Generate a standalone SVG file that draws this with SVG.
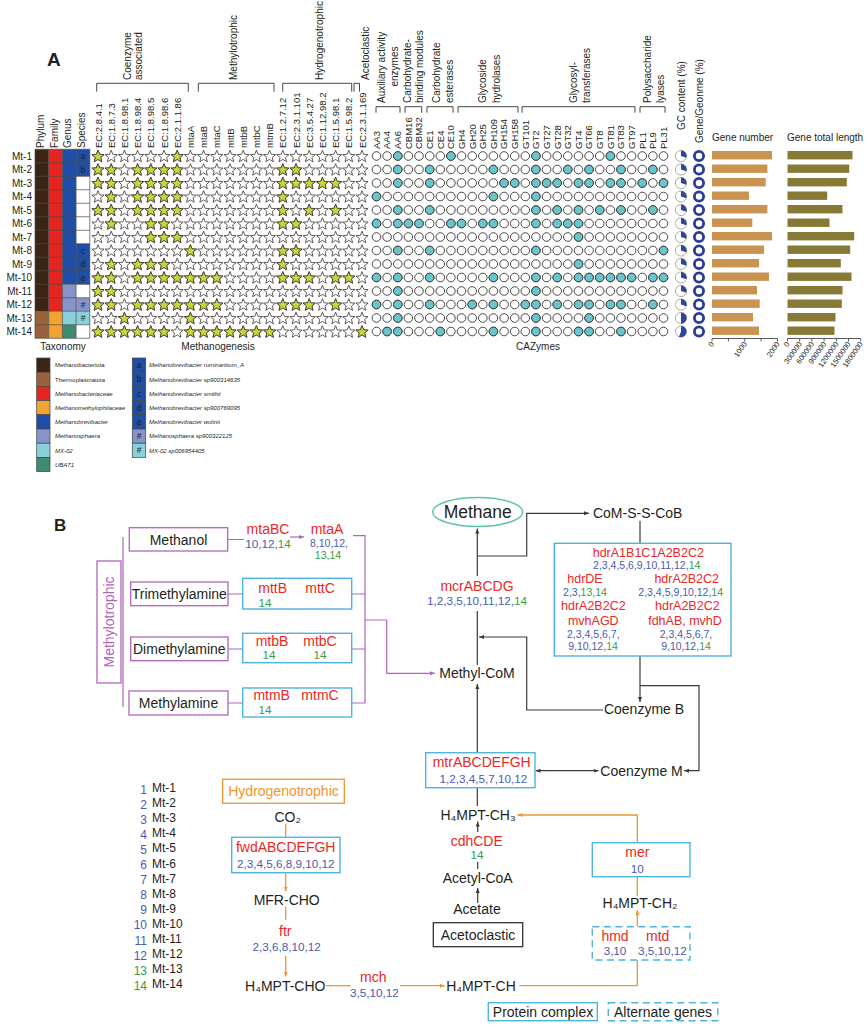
<svg xmlns="http://www.w3.org/2000/svg" width="868" height="1027" viewBox="0 0 868 1027">
<style>
text{font-family:"Liberation Sans",Arial,Helvetica,sans-serif;fill:#231f20}
.c{text-anchor:middle}
.e{text-anchor:end}
.s10{font-size:10px}
.s95{font-size:9.5px}
.s12{font-size:12px}
.s14{font-size:14px}
.n{font-size:11.7px;fill:#4a5baf}
.ns{font-size:10.5px;fill:#4a5baf}
.g{fill:#3b9a45}
.r{fill:#e8291f;font-size:14px}
.rs{fill:#e8291f;font-size:12.5px}
.lg{font-size:6px;font-style:italic}
.lgp{font-size:6px}
.let{font-size:8.5px;fill:#1c2050}
.br{fill:none;stroke:#333;stroke-width:0.9}
.pb{fill:#fff;stroke:#b066b8;stroke-width:1.3}
.cb{fill:#fff;stroke:#4db5de;stroke-width:1.4}
.db{fill:none;stroke:#4db5de;stroke-width:1.4;stroke-dasharray:7 4.5}
.kb{fill:#fff;stroke:#333;stroke-width:1.3}
.ob{fill:#fff;stroke:#f0962e;stroke-width:1.3}
.kl{fill:none;stroke:#3a3a3a;stroke-width:1.2}
.pl{fill:none;stroke:#b066b8;stroke-width:1.2}
.ol{fill:none;stroke:#f0962e;stroke-width:1.3}
.sw{stroke:#444;stroke-width:0.7}
.gn{fill:#c99452}
.gl{fill:#877a36}
.ax{fill:none;stroke:#333;stroke-width:0.8}
.tk{font-size:7.5px}
</style>
<defs>
<marker id="ak" viewBox="0 0 8 8" refX="8" refY="4" markerWidth="5" markerHeight="5" orient="auto-start-reverse" markerUnits="userSpaceOnUse"><path d="M0,0.8L8,4L0,7.2Z" fill="#3a3a3a"/></marker>
<marker id="ao" viewBox="0 0 8 8" refX="8" refY="4" markerWidth="5" markerHeight="5" orient="auto-start-reverse" markerUnits="userSpaceOnUse"><path d="M0,0.8L8,4L0,7.2Z" fill="#f0962e"/></marker>
<marker id="ap" viewBox="0 0 8 8" refX="8" refY="4" markerWidth="5" markerHeight="5" orient="auto-start-reverse" markerUnits="userSpaceOnUse"><path d="M0,0.8L8,4L0,7.2Z" fill="#b066b8"/></marker>
<path id="st" d="M0,-5.8L1.65,-1.67L6.09,-1.38L2.67,1.47L3.76,5.78L0,3.4L-3.76,5.78L-2.67,1.47L-6.09,-1.38L-1.65,-1.67Z" stroke="#3b3636" stroke-width="0.8"/>
<circle id="ci" r="4.3" stroke="#3b3636" stroke-width="0.9"/>
<g id="srow" fill="#fff"><use href="#st" x="98"/><use href="#st" x="111.2"/><use href="#st" x="124.4"/><use href="#st" x="137.6"/><use href="#st" x="150.8"/><use href="#st" x="164"/><use href="#st" x="177.2"/><use href="#st" x="190.4"/><use href="#st" x="203.6"/><use href="#st" x="216.8"/><use href="#st" x="230"/><use href="#st" x="243.2"/><use href="#st" x="256.4"/><use href="#st" x="269.6"/><use href="#st" x="282.8"/><use href="#st" x="296"/><use href="#st" x="309.2"/><use href="#st" x="322.4"/><use href="#st" x="335.6"/><use href="#st" x="348.8"/><use href="#st" x="362"/></g>
<g id="crow" fill="#fff"><use href="#ci" x="376.5"/><use href="#ci" x="387.1"/><use href="#ci" x="397.8"/><use href="#ci" x="408.4"/><use href="#ci" x="419"/><use href="#ci" x="429.7"/><use href="#ci" x="440.3"/><use href="#ci" x="450.9"/><use href="#ci" x="461.5"/><use href="#ci" x="472.2"/><use href="#ci" x="482.8"/><use href="#ci" x="493.4"/><use href="#ci" x="504.1"/><use href="#ci" x="514.7"/><use href="#ci" x="525.3"/><use href="#ci" x="535.9"/><use href="#ci" x="546.6"/><use href="#ci" x="557.2"/><use href="#ci" x="567.8"/><use href="#ci" x="578.5"/><use href="#ci" x="589.1"/><use href="#ci" x="599.7"/><use href="#ci" x="610.4"/><use href="#ci" x="621"/><use href="#ci" x="631.6"/><use href="#ci" x="642.3"/><use href="#ci" x="652.9"/><use href="#ci" x="663.5"/></g>
<g id="pieA"><circle r="5.6" fill="#fff" stroke="#8a8a8a" stroke-width="0.7"/><path d="M0,0V-5.6A5.6,5.6 0 0 1 5.33,1.73Z" fill="#2f44a0"/></g>
<g id="pieB"><circle r="5.6" fill="#fff" stroke="#8a8a8a" stroke-width="0.7"/><path d="M0,0V-5.6A5.6,5.6 0 0 1 0,5.6Z" fill="#2f44a0"/></g>
<g id="pieC"><circle r="5.6" fill="#fff" stroke="#8a8a8a" stroke-width="0.7"/><path d="M0,0V-5.6A5.6,5.6 0 1 1 -2.06,5.21Z" fill="#2f44a0"/></g>
<circle id="don" r="4.6" fill="#fff" stroke="#2a3c95" stroke-width="2.8"/>
</defs>

<g id="panelA-label"><text x="47" y="66" style="font-size:19px;font-weight:bold">A</text></g>

<g id="group-headers" class="s10">
<path class="br" d="M96.7,91.7V83.3H188.3V91.7M198.3,91.7V83.3H274V91.7M282.7,91.7V83.3H351.7V91.7M354,91.7V83.3H359.5V91.7"/>
<path class="br" d="M376,112.7V106.7H400V112.7M405,112.7V106.7H421.7V112.7M427,112.7V106.7H453V112.7M458,112.7V106.7H518V112.7M522,112.7V106.7H635V112.7M640,112.7V106.7H665V112.7"/>
<text transform="translate(130.5,80) rotate(-90)">Coenzyme</text>
<text transform="translate(142,80) rotate(-90)">associated</text>
<text transform="translate(237,80) rotate(-90)">Methylotrophic</text>
<text transform="translate(322.5,80) rotate(-90)">Hydrogenotrophic</text>
<text transform="translate(369,80) rotate(-90)">Acetoclastic</text>
<text transform="translate(384.5,103) rotate(-90)">Auxiliary activity</text>
<text class="c" transform="translate(398,66.5) rotate(-90)">enzymes</text>
<text transform="translate(411,103) rotate(-90)">Carbohydrate-</text>
<text transform="translate(423,103) rotate(-90)">binding modules</text>
<text transform="translate(439.5,103) rotate(-90)">Carbohydrate</text>
<text transform="translate(453,103) rotate(-90)">esterases</text>
<text transform="translate(486,103) rotate(-90)">Glycoside</text>
<text transform="translate(499.5,103) rotate(-90)">hydrolases</text>
<text transform="translate(576.5,103) rotate(-90)">Glycosyl-</text>
<text transform="translate(589.5,103) rotate(-90)">transferases</text>
<text transform="translate(650.5,103) rotate(-90)">Polysaccharide</text>
<text transform="translate(664,103) rotate(-90)">lyases</text>
<text transform="translate(684.5,130) rotate(-90)">GC content (%)</text>
<text transform="translate(702.5,143) rotate(-90)">Gene/Geonme (%)</text>
<text x="712" y="141">Gene number</text>
<text x="787" y="141">Gene total length</text>
</g>

<g id="column-headers" class="s95">
<text transform="translate(44,148) rotate(-90)" class="s10">Phylum</text>
<text transform="translate(57.5,148) rotate(-90)" class="s10">Family</text>
<text transform="translate(71,148) rotate(-90)" class="s10">Genus</text>
<text transform="translate(85,148) rotate(-90)" class="s10">Species</text>
<text transform="translate(101.5,148) rotate(-90)">EC:2.8.4.1</text>
<text transform="translate(114.7,148) rotate(-90)">EC:1.8.7.3</text>
<text transform="translate(127.9,148) rotate(-90)">EC:1.8.98.1</text>
<text transform="translate(141.1,148) rotate(-90)">EC:1.8.98.4</text>
<text transform="translate(154.3,148) rotate(-90)">EC:1.8.98.5</text>
<text transform="translate(167.5,148) rotate(-90)">EC:1.8.98.6</text>
<text transform="translate(180.7,148) rotate(-90)">EC:2.1.1.86</text>
<text transform="translate(193.9,148) rotate(-90)">mtaA</text>
<text transform="translate(207.1,148) rotate(-90)">mtaB</text>
<text transform="translate(220.3,148) rotate(-90)">mtaC</text>
<text transform="translate(233.5,148) rotate(-90)">mttB</text>
<text transform="translate(246.7,148) rotate(-90)">mtbB</text>
<text transform="translate(259.9,148) rotate(-90)">mtbC</text>
<text transform="translate(273.1,148) rotate(-90)">mtmB</text>
<text transform="translate(286.3,148) rotate(-90)">EC:1.2.7.12</text>
<text transform="translate(299.5,148) rotate(-90)">EC:2.3.1.101</text>
<text transform="translate(312.7,148) rotate(-90)">EC:3.5.4.27</text>
<text transform="translate(325.9,148) rotate(-90)">EC:1.12.98.2</text>
<text transform="translate(339.1,148) rotate(-90)">EC:1.5.98.1</text>
<text transform="translate(352.3,148) rotate(-90)">EC:1.5.98.2</text>
<text transform="translate(365.5,148) rotate(-90)">EC:2.3.1.169</text>
<text transform="translate(379.8,149) rotate(-90)">AA3</text>
<text transform="translate(390.4,149) rotate(-90)">AA4</text>
<text transform="translate(401.1,149) rotate(-90)">AA6</text>
<text transform="translate(411.7,149) rotate(-90)">CBM16</text>
<text transform="translate(422.3,149) rotate(-90)">CBM32</text>
<text transform="translate(433,149) rotate(-90)">CE1</text>
<text transform="translate(443.6,149) rotate(-90)">CE4</text>
<text transform="translate(454.2,149) rotate(-90)">CE10</text>
<text transform="translate(464.8,149) rotate(-90)">GH4</text>
<text transform="translate(475.5,149) rotate(-90)">GH20</text>
<text transform="translate(486.1,149) rotate(-90)">GH25</text>
<text transform="translate(496.7,149) rotate(-90)">GH109</text>
<text transform="translate(507.4,149) rotate(-90)">GH154</text>
<text transform="translate(518,149) rotate(-90)">GH158</text>
<text transform="translate(528.6,149) rotate(-90)">GT101</text>
<text transform="translate(539.2,149) rotate(-90)">GT2</text>
<text transform="translate(549.9,149) rotate(-90)">GT27</text>
<text transform="translate(560.5,149) rotate(-90)">GT28</text>
<text transform="translate(571.1,149) rotate(-90)">GT32</text>
<text transform="translate(581.8,149) rotate(-90)">GT4</text>
<text transform="translate(592.4,149) rotate(-90)">GT66</text>
<text transform="translate(603,149) rotate(-90)">GT8</text>
<text transform="translate(613.7,149) rotate(-90)">GT81</text>
<text transform="translate(624.3,149) rotate(-90)">GT83</text>
<text transform="translate(634.9,149) rotate(-90)">GT97</text>
<text transform="translate(645.6,149) rotate(-90)">PL1</text>
<text transform="translate(656.2,149) rotate(-90)">PL9</text>
<text transform="translate(666.8,149) rotate(-90)">PL31</text>
</g>

<g id="row-labels" class="s10 e">
<text x="32" y="159.6">Mt-1</text><text x="32" y="173.1">Mt-2</text><text x="32" y="186.6">Mt-3</text><text x="32" y="200.1">Mt-4</text><text x="32" y="213.6">Mt-5</text><text x="32" y="227.1">Mt-6</text><text x="32" y="240.6">Mt-7</text><text x="32" y="254.1">Mt-8</text><text x="32" y="267.6">Mt-9</text><text x="32" y="281.1">Mt-10</text><text x="32" y="294.6">Mt-11</text><text x="32" y="308.1">Mt-12</text><text x="32" y="321.6">Mt-13</text><text x="32" y="335.1">Mt-14</text>
</g>

<g id="taxonomy">
<rect x="35" y="149.25" width="13.7" height="162" fill="#3c2415"/>
<rect x="35" y="311.25" width="13.7" height="27" fill="#9b6239"/>
<rect x="48.7" y="149.25" width="13.7" height="162" fill="#e62420"/>
<rect x="48.7" y="311.25" width="13.7" height="27" fill="#f2a332"/>
<rect x="62.4" y="149.25" width="13.7" height="135" fill="#1f4ea6"/>
<rect x="62.4" y="284.25" width="13.7" height="27" fill="#8794c9"/>
<rect x="62.4" y="311.25" width="13.7" height="13.5" fill="#87d2da"/>
<rect x="62.4" y="324.75" width="13.7" height="13.5" fill="#3f8b6d"/>
<rect x="76.1" y="149.25" width="13.7" height="189" fill="#fff"/>
<rect x="76.1" y="149.25" width="13.7" height="27" fill="#1f4ea6"/>
<rect x="76.1" y="243.75" width="13.7" height="40.5" fill="#1f4ea6"/>
<rect x="76.1" y="297.75" width="13.7" height="13.5" fill="#8794c9"/>
<rect x="76.1" y="311.25" width="13.7" height="13.5" fill="#87d2da"/>
<path fill="none" stroke="#4a4a4a" stroke-width="0.7" d="M35,149.25H89.8M35,162.75H89.8M35,176.25H89.8M35,189.75H89.8M35,203.25H89.8M35,216.75H89.8M35,230.25H89.8M35,243.75H89.8M35,257.25H89.8M35,270.75H89.8M35,284.25H89.8M35,297.75H89.8M35,311.25H89.8M35,324.75H89.8M35,338.25H89.8M35,149.25V338.25M48.7,149.25V338.25M62.4,149.25V338.25M76.1,149.25V338.25M89.8,149.25V338.25"/>
<g class="let c">
<text x="83" y="159">a</text><text x="83" y="172.5">b</text><text x="83" y="253.5">c</text><text x="83" y="267">d</text><text x="83" y="280.5">e</text><text x="83" y="307.5">#</text><text x="83" y="321">#</text>
</g>
</g>

<g id="methanogenesis-stars">
<use href="#srow" y="156"/><use href="#srow" y="169.5"/><use href="#srow" y="183"/><use href="#srow" y="196.5"/><use href="#srow" y="210"/><use href="#srow" y="223.5"/><use href="#srow" y="237"/><use href="#srow" y="250.5"/><use href="#srow" y="264"/><use href="#srow" y="277.5"/><use href="#srow" y="291"/><use href="#srow" y="304.5"/><use href="#srow" y="318"/><use href="#srow" y="331.5"/>
<g fill="#c8d63c">
<g transform="translate(0,156)"><use href="#st" x="98"/><use href="#st" x="177.2"/></g>
<g transform="translate(0,169.5)"><use href="#st" x="98"/><use href="#st" x="111.2"/><use href="#st" x="137.6"/><use href="#st" x="150.8"/><use href="#st" x="164"/><use href="#st" x="177.2"/><use href="#st" x="282.8"/><use href="#st" x="296"/></g>
<g transform="translate(0,183)"><use href="#st" x="98"/><use href="#st" x="111.2"/><use href="#st" x="137.6"/><use href="#st" x="150.8"/><use href="#st" x="164"/><use href="#st" x="177.2"/><use href="#st" x="282.8"/><use href="#st" x="296"/><use href="#st" x="309.2"/><use href="#st" x="322.4"/><use href="#st" x="335.6"/></g>
<g transform="translate(0,196.5)"><use href="#st" x="111.2"/><use href="#st" x="137.6"/><use href="#st" x="150.8"/><use href="#st" x="164"/><use href="#st" x="177.2"/><use href="#st" x="282.8"/></g>
<g transform="translate(0,210)"><use href="#st" x="98"/><use href="#st" x="111.2"/><use href="#st" x="137.6"/><use href="#st" x="150.8"/><use href="#st" x="164"/><use href="#st" x="177.2"/><use href="#st" x="282.8"/><use href="#st" x="309.2"/><use href="#st" x="335.6"/></g>
<g transform="translate(0,223.5)"><use href="#st" x="111.2"/><use href="#st" x="150.8"/><use href="#st" x="164"/><use href="#st" x="282.8"/><use href="#st" x="296"/></g>
<g transform="translate(0,237)"><use href="#st" x="150.8"/><use href="#st" x="164"/><use href="#st" x="177.2"/></g>
<g transform="translate(0,250.5)"><use href="#st" x="190.4"/><use href="#st" x="282.8"/><use href="#st" x="296"/></g>
<g transform="translate(0,264)"><use href="#st" x="111.2"/><use href="#st" x="137.6"/><use href="#st" x="150.8"/><use href="#st" x="164"/><use href="#st" x="282.8"/></g>
<g transform="translate(0,277.5)"><use href="#st" x="98"/><use href="#st" x="111.2"/><use href="#st" x="137.6"/><use href="#st" x="150.8"/><use href="#st" x="164"/><use href="#st" x="177.2"/><use href="#st" x="190.4"/><use href="#st" x="203.6"/><use href="#st" x="216.8"/><use href="#st" x="282.8"/><use href="#st" x="296"/><use href="#st" x="309.2"/><use href="#st" x="335.6"/><use href="#st" x="348.8"/></g>
<g transform="translate(0,291)"><use href="#st" x="98"/><use href="#st" x="111.2"/></g>
<g transform="translate(0,304.5)"><use href="#st" x="98"/><use href="#st" x="111.2"/><use href="#st" x="137.6"/><use href="#st" x="150.8"/><use href="#st" x="164"/><use href="#st" x="177.2"/><use href="#st" x="190.4"/><use href="#st" x="203.6"/><use href="#st" x="216.8"/><use href="#st" x="282.8"/><use href="#st" x="296"/><use href="#st" x="309.2"/><use href="#st" x="335.6"/></g>
<g transform="translate(0,318)"><use href="#st" x="124.4"/><use href="#st" x="190.4"/></g>
<g transform="translate(0,331.5)"><use href="#st" x="98"/><use href="#st" x="111.2"/><use href="#st" x="124.4"/><use href="#st" x="137.6"/><use href="#st" x="150.8"/><use href="#st" x="164"/><use href="#st" x="190.4"/><use href="#st" x="203.6"/><use href="#st" x="216.8"/><use href="#st" x="230"/><use href="#st" x="243.2"/><use href="#st" x="256.4"/><use href="#st" x="269.6"/><use href="#st" x="362"/></g>
</g>
</g>

<g id="cazyme-circles">
<use href="#crow" y="156"/><use href="#crow" y="169.5"/><use href="#crow" y="183"/><use href="#crow" y="196.5"/><use href="#crow" y="210"/><use href="#crow" y="223.5"/><use href="#crow" y="237"/><use href="#crow" y="250.5"/><use href="#crow" y="264"/><use href="#crow" y="277.5"/><use href="#crow" y="291"/><use href="#crow" y="304.5"/><use href="#crow" y="318"/><use href="#crow" y="331.5"/>
<g fill="#6ac6cd">
<g transform="translate(0,156)"><use href="#ci" x="397.8"/><use href="#ci" x="450.9"/><use href="#ci" x="535.9"/><use href="#ci" x="610.4"/></g>
<g transform="translate(0,169.5)"><use href="#ci" x="397.8"/><use href="#ci" x="429.7"/><use href="#ci" x="493.4"/><use href="#ci" x="535.9"/><use href="#ci" x="567.8"/><use href="#ci" x="589.1"/><use href="#ci" x="621"/><use href="#ci" x="652.9"/></g>
<g transform="translate(0,183)"><use href="#ci" x="397.8"/><use href="#ci" x="429.7"/><use href="#ci" x="504.1"/><use href="#ci" x="514.7"/><use href="#ci" x="535.9"/><use href="#ci" x="546.6"/><use href="#ci" x="557.2"/><use href="#ci" x="578.5"/><use href="#ci" x="589.1"/><use href="#ci" x="610.4"/><use href="#ci" x="621"/><use href="#ci" x="642.3"/><use href="#ci" x="663.5"/></g>
<g transform="translate(0,196.5)"><use href="#ci" x="376.5"/><use href="#ci" x="493.4"/><use href="#ci" x="535.9"/></g>
<g transform="translate(0,210)"><use href="#ci" x="397.8"/><use href="#ci" x="429.7"/><use href="#ci" x="535.9"/><use href="#ci" x="557.2"/><use href="#ci" x="578.5"/><use href="#ci" x="599.7"/><use href="#ci" x="621"/><use href="#ci" x="652.9"/></g>
<g transform="translate(0,223.5)"><use href="#ci" x="376.5"/><use href="#ci" x="397.8"/><use href="#ci" x="408.4"/><use href="#ci" x="419"/><use href="#ci" x="450.9"/><use href="#ci" x="461.5"/><use href="#ci" x="482.8"/><use href="#ci" x="493.4"/><use href="#ci" x="535.9"/><use href="#ci" x="557.2"/><use href="#ci" x="567.8"/><use href="#ci" x="578.5"/></g>
<g transform="translate(0,237)"><use href="#ci" x="578.5"/></g>
<g transform="translate(0,250.5)"><use href="#ci" x="397.8"/><use href="#ci" x="429.7"/><use href="#ci" x="535.9"/><use href="#ci" x="663.5"/></g>
<g transform="translate(0,264)"><use href="#ci" x="578.5"/></g>
<g transform="translate(0,277.5)"><use href="#ci" x="376.5"/><use href="#ci" x="397.8"/><use href="#ci" x="429.7"/><use href="#ci" x="493.4"/><use href="#ci" x="535.9"/><use href="#ci" x="557.2"/><use href="#ci" x="578.5"/><use href="#ci" x="589.1"/><use href="#ci" x="599.7"/><use href="#ci" x="610.4"/><use href="#ci" x="621"/><use href="#ci" x="631.6"/><use href="#ci" x="652.9"/><use href="#ci" x="663.5"/></g>
<g transform="translate(0,291)"><use href="#ci" x="397.8"/><use href="#ci" x="535.9"/></g>
<g transform="translate(0,304.5)"><use href="#ci" x="376.5"/><use href="#ci" x="397.8"/><use href="#ci" x="429.7"/><use href="#ci" x="472.2"/><use href="#ci" x="493.4"/><use href="#ci" x="525.3"/><use href="#ci" x="535.9"/><use href="#ci" x="557.2"/><use href="#ci" x="578.5"/><use href="#ci" x="589.1"/><use href="#ci" x="610.4"/><use href="#ci" x="621"/><use href="#ci" x="652.9"/></g>
<g transform="translate(0,318)"><use href="#ci" x="397.8"/><use href="#ci" x="535.9"/><use href="#ci" x="589.1"/></g>
<g transform="translate(0,331.5)"><use href="#ci" x="387.1"/><use href="#ci" x="397.8"/><use href="#ci" x="440.3"/><use href="#ci" x="493.4"/><use href="#ci" x="535.9"/><use href="#ci" x="578.5"/><use href="#ci" x="589.1"/><use href="#ci" x="621"/></g>
</g>
</g>

<g id="gc-pies">
<use href="#pieA" x="681" y="156"/><use href="#pieA" x="681" y="169.5"/><use href="#pieA" x="681" y="183"/><use href="#pieA" x="681" y="196.5"/><use href="#pieA" x="681" y="210"/><use href="#pieA" x="681" y="223.5"/><use href="#pieA" x="681" y="237"/><use href="#pieA" x="681" y="250.5"/><use href="#pieA" x="681" y="264"/><use href="#pieA" x="681" y="277.5"/><use href="#pieA" x="681" y="291"/><use href="#pieA" x="681" y="304.5"/><use href="#pieB" x="681" y="318"/><use href="#pieC" x="681" y="331.5"/>
</g>
<g id="gene-genome">
<use href="#don" x="699" y="156"/><use href="#don" x="699" y="169.5"/><use href="#don" x="699" y="183"/><use href="#don" x="699" y="196.5"/><use href="#don" x="699" y="210"/><use href="#don" x="699" y="223.5"/><use href="#don" x="699" y="237"/><use href="#don" x="699" y="250.5"/><use href="#don" x="699" y="264"/><use href="#don" x="699" y="277.5"/><use href="#don" x="699" y="291"/><use href="#don" x="699" y="304.5"/><use href="#don" x="699" y="318"/><use href="#don" x="699" y="331.5"/>
</g>

<g id="gene-number-bars" class="gn">
<rect x="712" y="151" width="60" height="8.4"/><rect x="712" y="164.5" width="55.4" height="8.4"/><rect x="712" y="178" width="53.7" height="8.4"/><rect x="712" y="191.5" width="37" height="8.4"/><rect x="712" y="205" width="55.4" height="8.4"/><rect x="712" y="218.5" width="40.3" height="8.4"/><rect x="712" y="232" width="60" height="8.4"/><rect x="712" y="245.5" width="52" height="8.4"/><rect x="712" y="259" width="47" height="8.4"/><rect x="712" y="272.5" width="57" height="8.4"/><rect x="712" y="286" width="45" height="8.4"/><rect x="712" y="299.5" width="47.7" height="8.4"/><rect x="712" y="313" width="41" height="8.4"/><rect x="712" y="326.5" width="47" height="8.4"/>
</g>
<g id="gene-length-bars" class="gl">
<rect x="787.5" y="151" width="65" height="8.4"/><rect x="787.5" y="164.5" width="61.7" height="8.4"/><rect x="787.5" y="178" width="59.3" height="8.4"/><rect x="787.5" y="191.5" width="39.7" height="8.4"/><rect x="787.5" y="205" width="55" height="8.4"/><rect x="787.5" y="218.5" width="42" height="8.4"/><rect x="787.5" y="232" width="66.7" height="8.4"/><rect x="787.5" y="245.5" width="62.7" height="8.4"/><rect x="787.5" y="259" width="53.3" height="8.4"/><rect x="787.5" y="272.5" width="64" height="8.4"/><rect x="787.5" y="286" width="55" height="8.4"/><rect x="787.5" y="299.5" width="54.3" height="8.4"/><rect x="787.5" y="313" width="48" height="8.4"/><rect x="787.5" y="326.5" width="47" height="8.4"/>
</g>
<g id="axes">
<path class="ax" d="M712,338.5H777.5M712,338.5v3M728.4,338.5v3M744.8,338.5v3M761.1,338.5v3M777.5,338.5v3"/>
<path class="ax" d="M787.5,338.5H860.7M787.5,338.5v3M799.7,338.5v3M811.9,338.5v3M824.1,338.5v3M836.3,338.5v3M848.5,338.5v3M860.7,338.5v3"/>
<g class="tk e">
<text transform="translate(714.5,344) rotate(-55)">0</text>
<text transform="translate(747.3,344) rotate(-55)">1000</text>
<text transform="translate(780,344) rotate(-55)">2000</text>
<text transform="translate(790,344) rotate(-55)">0</text>
<text transform="translate(802.2,344) rotate(-55)">300000</text>
<text transform="translate(814.4,344) rotate(-55)">600000</text>
<text transform="translate(826.6,344) rotate(-55)">900000</text>
<text transform="translate(838.8,344) rotate(-55)">1200000</text>
<text transform="translate(851,344) rotate(-55)">1500000</text>
<text transform="translate(863.2,344) rotate(-55)">1800000</text>
</g>
</g>

<g id="section-labels" class="s10 c">
<text x="63" y="350">Taxonomy</text>
<text x="218" y="350">Methanogenesis</text>
<text x="538" y="350">CAZymes</text>
</g>

<g id="legend-taxonomy">
<rect class="sw" x="36.7" y="358" width="13.3" height="14.2" fill="#3c2415"/>
<rect class="sw" x="36.7" y="372.2" width="13.3" height="14.2" fill="#9b6239"/>
<rect class="sw" x="36.7" y="386.4" width="13.3" height="14.2" fill="#e62420"/>
<rect class="sw" x="36.7" y="400.6" width="13.3" height="14.2" fill="#f2a332"/>
<rect class="sw" x="36.7" y="414.8" width="13.3" height="14.2" fill="#1f4ea6"/>
<rect class="sw" x="36.7" y="429" width="13.3" height="14.2" fill="#8794c9"/>
<rect class="sw" x="36.7" y="443.2" width="13.3" height="14.2" fill="#87d2da"/>
<rect class="sw" x="36.7" y="457.4" width="13.3" height="14.2" fill="#3f8b6d"/>
<text class="lgp" x="55" y="367.3">Methanobacteriota</text>
<text class="lgp" x="55" y="381.5">Thermoplasmatota</text>
<text class="lg" x="55" y="395.7">Methanobacteriaceae</text>
<text class="lg" x="55" y="409.9">Methanomethylophilaceae</text>
<text class="lg" x="55" y="424.1">Methanobrevibacter</text>
<text class="lg" x="55" y="438.3">Methanosphaera</text>
<text class="lg" x="55" y="452.5">MX-02</text>
<text class="lg" x="55" y="466.7">UBA71</text>
</g>
<g id="legend-species">
<rect class="sw" x="132.3" y="358" width="13.4" height="14.2" fill="#1f4ea6"/>
<rect class="sw" x="132.3" y="372.2" width="13.4" height="14.2" fill="#1f4ea6"/>
<rect class="sw" x="132.3" y="386.4" width="13.4" height="14.2" fill="#1f4ea6"/>
<rect class="sw" x="132.3" y="400.6" width="13.4" height="14.2" fill="#1f4ea6"/>
<rect class="sw" x="132.3" y="414.8" width="13.4" height="14.2" fill="#1f4ea6"/>
<rect class="sw" x="132.3" y="429" width="13.4" height="14.2" fill="#8794c9"/>
<rect class="sw" x="132.3" y="443.2" width="13.4" height="14.2" fill="#87d2da"/>
<g class="let c">
<text x="139" y="368.2">a</text><text x="139" y="382.4">b</text><text x="139" y="396.6">c</text><text x="139" y="410.8">d</text><text x="139" y="425">e</text><text x="139" y="439.2">#</text><text x="139" y="453.4">#</text>
</g>
<text class="lg" x="149" y="367.3">Methanobrevibacter ruminantium_A</text>
<text class="lg" x="149" y="381.5">Methanobrevibacter sp900314635</text>
<text class="lg" x="149" y="395.7">Methanobrevibacter smithii</text>
<text class="lg" x="149" y="409.9">Methanobrevibacter sp900769095</text>
<text class="lg" x="149" y="424.1">Methanobrevibacter wolinii</text>
<text class="lg" x="149" y="438.3">Methanosphaera sp900322125</text>
<text class="lg" x="149" y="452.5">MX-02 sp006954405</text>
</g>

<g id="panelB-label"><text x="54" y="531" style="font-size:17px;font-weight:bold">B</text></g>

<g id="connectors">
<path class="pl" d="M123,537V707"/>
<path class="pl" d="M228,539.5H244M228,594H242.7M228,649H242.7M228,703H242.7"/>
<path class="pl" d="M290,537H304" marker-end="url(#ap)"/>
<path class="pl" d="M353,535.7H365V703M351.7,594H365M351.7,649H365M351.7,703H365"/>
<path class="pl" d="M365,620H386.7V673.3H435" marker-end="url(#ap)"/>
<path class="kl" d="M477.3,576V528.5" marker-end="url(#ak)"/>
<path class="kl" d="M477.3,556H526.7V513.3H589" marker-end="url(#ak)"/>
<path class="kl" d="M477.3,611V665"/>
<path class="kl" d="M603,710H526.7V637H479" marker-end="url(#ak)"/>
<path class="kl" d="M477.3,752.7V684" marker-end="url(#ak)"/>
<path class="kl" d="M640,520.7V543.3"/>
<path class="kl" d="M640,656V702" marker-end="url(#ak)"/>
<path class="kl" d="M640,685.7H699V770.7H684" marker-end="url(#ak)"/>
<path class="kl" d="M535.5,770.7H598.5" marker-start="url(#ak)" marker-end="url(#ak)"/>
<path class="kl" d="M477.3,787.7V806"/>
<path class="kl" d="M477.7,832V821.5" marker-end="url(#ak)"/>
<path class="kl" d="M477.7,862V869"/>
<path class="kl" d="M477.7,903V888" marker-end="url(#ak)"/>
<path class="ol" d="M637.3,842.7V815H517.5" marker-end="url(#ao)"/>
<path class="ol" d="M637.3,876.7V896"/>
<path class="ol" d="M637.3,926.7V910" marker-end="url(#ao)"/>
<path class="ol" d="M637.3,960V985.7H519.3"/>
<path class="ol" d="M285.7,824V837.3"/>
<path class="ol" d="M285.7,872.7V891.5" marker-end="url(#ao)"/>
<path class="ol" d="M285.7,906.7V920"/>
<path class="ol" d="M285.7,956V976.5" marker-end="url(#ao)"/>
<path class="ol" d="M326,985.7H350.7"/>
<path class="ol" d="M400,985.7H445" marker-end="url(#ao)"/>
</g>

<g id="n-methylotrophic"><rect class="pb" x="97" y="561" width="24" height="122"/><text class="c" transform="translate(114,622) rotate(-90)" style="font-size:14px;fill:#b066b8">Methylotrophic</text></g>
<g id="n-methanol"><rect class="pb" x="129.3" y="527.7" width="98.4" height="23.3"/><text class="c s14" x="178.5" y="544.5">Methanol</text></g>
<g id="n-trimethylamine"><rect class="pb" x="130.7" y="582" width="97.3" height="23.7"/><text class="c s14" x="179.3" y="599">Trimethylamine</text></g>
<g id="n-dimethylamine"><rect class="pb" x="130.7" y="637" width="97.3" height="23.7"/><text class="c s14" x="179.3" y="654">Dimethylamine</text></g>
<g id="n-methylamine"><rect class="pb" x="129" y="691" width="99" height="24"/><text class="c s14" x="178.5" y="708">Methylamine</text></g>

<g id="g-mtaBC"><text class="r c" x="268" y="533.5">mtaBC</text><text class="n c" x="268" y="548.2">10,12,<tspan class="g">14</tspan></text></g>
<g id="g-mtaA"><text class="r c" x="327" y="533.5">mtaA</text><text class="ns c" x="329" y="546.6">8,10,12,</text><text class="ns c g" x="328" y="558.6">13,14</text></g>
<g id="g-mtt"><rect class="cb" x="242.7" y="578.3" width="109" height="30.7"/><text class="r c" x="272.7" y="593">mttB</text><text class="r c" x="320" y="593">mttC</text><text class="n c g" x="265" y="607">14</text></g>
<g id="g-mtb"><rect class="cb" x="242.7" y="633.3" width="109" height="29.4"/><text class="r c" x="272" y="645.5">mtbB</text><text class="r c" x="320" y="645.5">mtbC</text><text class="n c g" x="269" y="659.4">14</text><text class="n c g" x="320" y="659.4">14</text></g>
<g id="g-mtm"><rect class="cb" x="242.7" y="688" width="109" height="29"/><text class="r c" x="271.7" y="700.3">mtmB</text><text class="r c" x="320" y="700.3">mtmC</text><text class="n c g" x="265" y="714.2">14</text></g>

<g id="n-methane"><ellipse cx="477.7" cy="512" rx="45" ry="14.5" fill="#fff" stroke="#5ec2a6" stroke-width="1.4"/><text class="c" x="477.7" y="518.3" style="font-size:17.5px">Methane</text></g>
<g id="g-mcr"><text class="r c" x="477" y="591">mcrABCDG</text><text class="n c" x="477" y="605.2">1,2,3,5,10,11,12,<tspan class="g">14</tspan></text></g>
<g id="n-methylcom"><text class="c s14" x="477" y="678">Methyl-CoM</text></g>
<g id="n-comsscob"><text class="c s14" x="637.7" y="518">CoM-S-S-CoB</text></g>
<g id="g-hdr"><rect class="cb" x="554.3" y="543.3" width="176.7" height="112.7"/>
<text class="rs c" x="648.3" y="556.5">hdrA1B1C1A2B2C2</text>
<text class="ns c" x="646.7" y="569.3">2,3,4,5,6,9,10,11,12,<tspan class="g">14</tspan></text>
<text class="rs c" x="585" y="583.4">hdrDE</text>
<text class="rs c" x="686.7" y="583.4">hdrA2B2C2</text>
<text class="ns c" x="585" y="596.2">2,3,<tspan class="g">13,14</tspan></text>
<text class="ns c" x="680.7" y="596.2">2,3,4,5,9,10,12,<tspan class="g">14</tspan></text>
<text class="rs c" x="593.3" y="610.3">hdrA2B2C2</text>
<text class="rs c" x="687.3" y="610.3">hdrA2B2C2</text>
<text class="rs c" x="593.3" y="624.9">mvhAGD</text>
<text class="rs c" x="685" y="624.9">fdhAB, mvhD</text>
<text class="ns c" x="593.3" y="637.7">2,3,4,5,6,7,</text>
<text class="ns c" x="686" y="637.7">2,3,4,5,6,7,</text>
<text class="ns c" x="593" y="650">9,10,12,<tspan class="g">14</tspan></text>
<text class="ns c" x="686" y="650">9,10,12,<tspan class="g">14</tspan></text>
</g>
<g id="n-coenzymeb"><text class="c s14" x="644" y="714">Coenzyme B</text></g>
<g id="n-coenzymem"><text class="c s14" x="641.5" y="775.5">Coenzyme M</text></g>
<g id="g-mtr"><rect class="cb" x="425.7" y="752.7" width="109.3" height="35"/><text class="r c" x="481.7" y="767">mtrABCDEFGH</text><text class="n c" x="483.3" y="783">1,2,3,4,5,7,10,12</text></g>
<g id="n-h4mptch3"><text class="c s14" x="478" y="820">H₄MPT-CH₃</text></g>
<g id="g-cdh"><text class="r c" x="476.7" y="845.5">cdhCDE</text><text class="n c g" x="477" y="859.4">14</text></g>
<g id="n-acetylcoa"><text class="c s14" x="477.7" y="883">Acetyl-CoA</text></g>
<g id="n-acetate"><text class="c s14" x="477" y="914">Acetate</text></g>
<g id="n-acetoclastic"><rect class="kb" x="433.3" y="922.7" width="89.4" height="24"/><text class="c s14" x="478" y="940">Acetoclastic</text></g>
<g id="g-mer"><rect class="cb" x="592.3" y="842.7" width="97.7" height="34"/><text class="r c" x="637.3" y="857">mer</text><text class="n c" x="637.3" y="872.5">10</text></g>
<g id="n-h4mptch2"><text class="c s14" x="640" y="907.5">H₄MPT-CH₂</text></g>
<g id="g-hmd-mtd"><rect class="db" x="592.3" y="926.7" width="97.7" height="33.3"/><text class="r c" x="615" y="940.5">hmd</text><text class="r c" x="657.7" y="940.5">mtd</text><text class="n c" x="615" y="955">3,10</text><text class="n c" x="662.3" y="955">3,5,10,12</text></g>
<g id="n-h4mptch"><text class="c s14" x="481" y="990.5">H₄MPT-CH</text></g>

<g id="n-hydrogenotrophic"><rect class="ob" x="222.7" y="779.3" width="121.6" height="24"/><text class="c" x="283.5" y="796" style="font-size:14px;fill:#f0962e">Hydrogenotrophic</text></g>
<g id="n-co2"><text class="c s14" x="287.7" y="821.5">CO₂</text></g>
<g id="g-fwd"><rect class="cb" x="231.7" y="837.3" width="108.3" height="35.4"/><text class="r c" x="285.7" y="852">fwdABCDEFGH</text><text class="n c" x="285.7" y="868">2,3,4,5,6,8,9,10,12</text></g>
<g id="n-mfrcho"><text class="c s14" x="286.7" y="904.5">MFR-CHO</text></g>
<g id="g-ftr"><text class="r c" x="285.3" y="936">ftr</text><text class="n c" x="286.7" y="950.5">2,3,6,8,10,12</text></g>
<g id="n-h4mptcho"><text class="c s14" x="285.3" y="990.5">H₄MPT-CHO</text></g>
<g id="g-mch"><text class="r c" x="373.3" y="982">mch</text><text class="n c" x="374.3" y="997">3,5,10,12</text></g>

<g id="legend-genomes" class="s12">
<g class="e">
<text x="147" y="793.5" style="fill:#4a5baf">1</text><text x="147" y="808.6" style="fill:#4a5baf">2</text><text x="147" y="823.7" style="fill:#4a5baf">3</text><text x="147" y="838.8" style="fill:#4a5baf">4</text><text x="147" y="853.9" style="fill:#4a5baf">5</text><text x="147" y="869" style="fill:#4a5baf">6</text><text x="147" y="884.1" style="fill:#4a5baf">7</text><text x="147" y="899.2" style="fill:#4a5baf">8</text><text x="147" y="914.3" style="fill:#4a5baf">9</text><text x="147" y="929.4" style="fill:#4a5baf">10</text><text x="147" y="944.5" style="fill:#4a5baf">11</text><text x="147" y="959.6" style="fill:#4a5baf">12</text><text x="147" y="974.7" style="fill:#3b9a45">13</text><text x="147" y="989.8" style="fill:#3b9a45">14</text>
</g>
<text x="152" y="792">Mt-1</text><text x="152" y="807.1">Mt-2</text><text x="152" y="822.2">Mt-3</text><text x="152" y="837.3">Mt-4</text><text x="152" y="852.4">Mt-5</text><text x="152" y="867.5">Mt-6</text><text x="152" y="882.6">Mt-7</text><text x="152" y="897.7">Mt-8</text><text x="152" y="912.8">Mt-9</text><text x="152" y="927.9">Mt-10</text><text x="152" y="943">Mt-11</text><text x="152" y="958.1">Mt-12</text><text x="152" y="973.2">Mt-13</text><text x="152" y="988.3">Mt-14</text>
</g>

<g id="legend-boxes">
<rect class="cb" x="488.3" y="1002.7" width="109" height="18"/><text class="c s14" x="543" y="1016.5">Protein complex</text>
<rect class="db" x="608.3" y="1002.7" width="109.4" height="18"/><text class="c s14" x="663" y="1016.5">Alternate genes</text>
</g>
</svg>
